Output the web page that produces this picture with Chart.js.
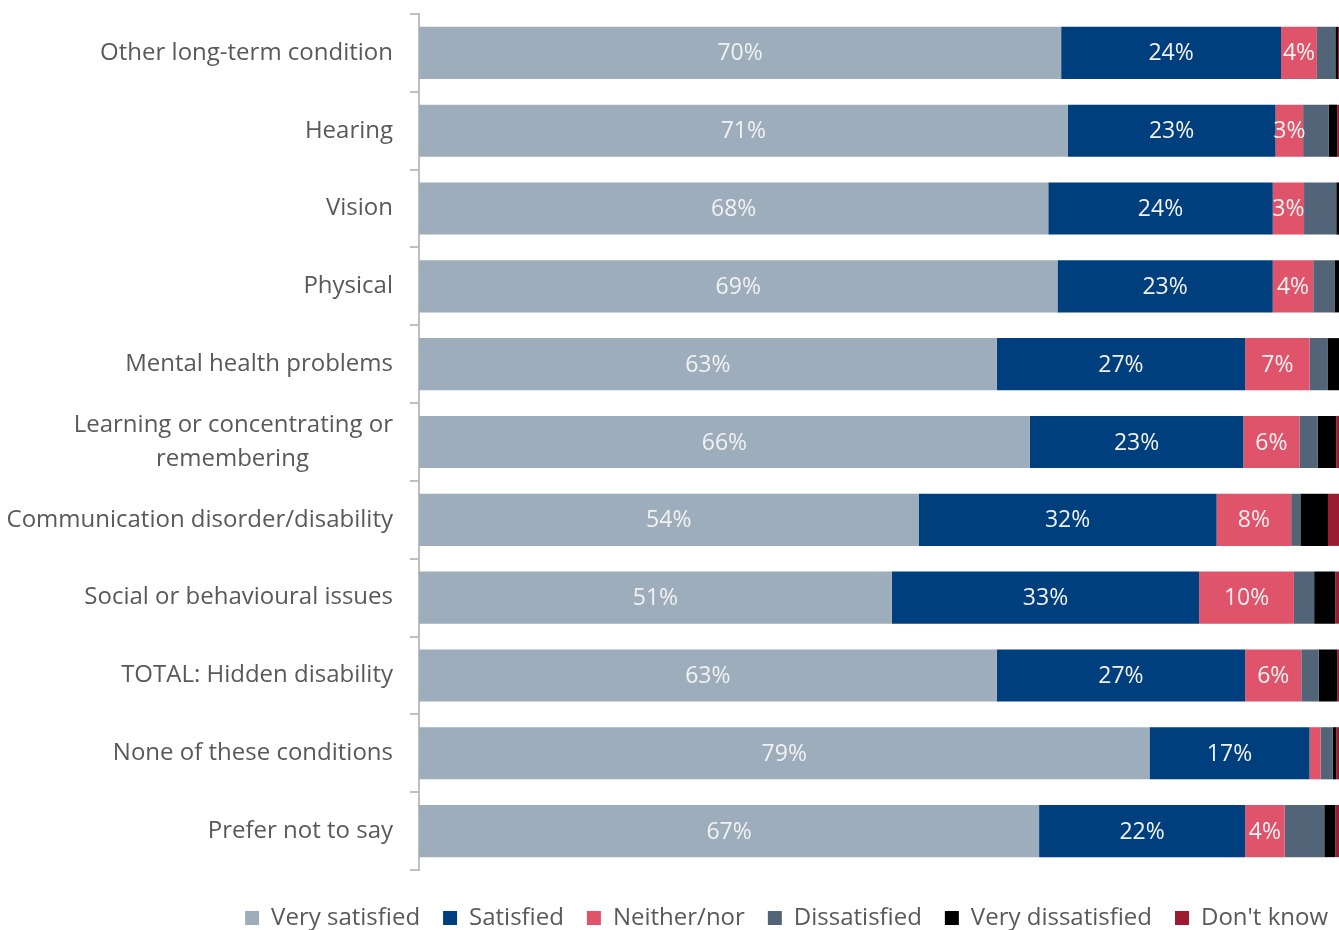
<!DOCTYPE html>
<html>
<head>
<meta charset="utf-8">
<script src="https://cdn.jsdelivr.net/npm/chart.js@4/dist/chart.umd.min.js"></script>
<style>
html,body{margin:0;padding:0;background:#fff;}
#wrap{width:1339px;height:930px;position:relative;}
</style>
</head>
<body>
<div id="wrap"><canvas id="c" width="1339" height="930"></canvas></div>
<script>
const categories = [
  "Other long-term condition",
  "Hearing",
  "Vision",
  "Physical",
  "Mental health problems",
  ["Learning or concentrating or", "remembering"],
  "Communication disorder/disability",
  "Social or behavioural issues",
  "TOTAL: Hidden disability",
  "None of these conditions",
  "Prefer not to say"
];
const seriesNames = ["Very satisfied", "Satisfied", "Neither/nor", "Dissatisfied", "Very dissatisfied", "Don't know"];
const verySatisfied    = [69.8, 70.5, 68.4, 69.4, 62.8, 66.4, 54.3, 51.4, 62.8, 79.4, 67.4];
const satisfied        = [23.9, 22.6, 24.4, 23.4, 27.0, 23.2, 32.4, 33.4, 27.0, 17.4, 22.4];
const neitherNor       = [3.9, 3.0, 3.4, 4.4, 7.0, 6.1, 8.1, 10.3, 6.1, 1.2, 4.3];
const dissatisfied     = [2.0, 2.8, 3.5, 2.3, 2.0, 2.0, 1.0, 2.2, 1.9, 1.3, 4.3];
const veryDissatisfied = [0.3, 0.9, 0.3, 0.5, 1.2, 2.0, 3.0, 2.3, 2.0, 0.4, 1.2];
const dontKnow         = [0.1, 0.2, 0.0, 0.0, 0.0, 0.3, 1.2, 0.4, 0.2, 0.3, 0.4];

const colors = ["#9DADBC", "#003F7D", "#E0546B", "#526578", "#000000", "#9B1B30"];
const allSeries = [verySatisfied, satisfied, neitherNor, dissatisfied, veryDissatisfied, dontKnow];
const FONT = "'Open Sans', 'Noto Sans', sans-serif";
const TICK_FONT_SIZE = 24;

// centre the lines of a wrapped label, while the block stays right-aligned
const measureCtx = document.createElement('canvas').getContext('2d');
function centreLines(label) {
  if (!Array.isArray(label)) return label;
  measureCtx.font = TICK_FONT_SIZE + "px " + FONT;
  const widths = label.map(l => measureCtx.measureText(l).width);
  const maxW = Math.max(...widths);
  const sp = measureCtx.measureText("\u200A").width || 1;
  return label.map((l, i) => {
    const n = Math.round(((maxW - widths[i]) / 2) / sp);
    return l + "\u200A".repeat(n);
  });
}

const barLabels = {
  id: 'barLabels',
  afterDatasetsDraw(chart) {
    const ctx = chart.ctx;
    ctx.save();
    ctx.font = "23px " + FONT;
    ctx.fillStyle = "#F2F2F2";
    ctx.textAlign = "center";
    ctx.textBaseline = "middle";
    chart.data.datasets.forEach((ds, di) => {
      if (di > 2) return;
      const meta = chart.getDatasetMeta(di);
      meta.data.forEach((bar, i) => {
        const v = ds.data[i];
        if (v < 2.5) return;
        const cx = (bar.x + bar.base) / 2;
        ctx.fillText(Math.round(v) + "%", cx, bar.y + 1);
      });
    });
    ctx.restore();
  }
};

const legendShift = {
  id: 'legendShift',
  afterLayout(chart) {
    const lg = chart.legend;
    if (lg) { lg.left += 12; lg.right += 12; }
  }
};

new Chart(document.getElementById('c'), {
  type: 'bar',
  data: {
    labels: categories,
    datasets: allSeries.map((d, i) => ({
      label: seriesNames[i],
      data: d,
      backgroundColor: colors[i],
      borderWidth: 0,
      categoryPercentage: 1.0,
      barPercentage: 0.67
    }))
  },
  options: {
    indexAxis: 'y',
    responsive: false,
    animation: false,
    layout: { padding: { top: 14, right: 0, bottom: -10, left: 0 } },
    scales: {
      x: {
        stacked: true, display: true, min: 0, max: 100,
        ticks: { display: false },
        grid: { display: false },
        border: { display: false },
        afterFit: s => { s.height = 13; s.paddingLeft = 0; s.paddingRight = 0; }
      },
      y: {
        stacked: true,
        afterFit: s => { s.width = 419; s.paddingTop = 0; s.paddingBottom = 0; },
        grid: { drawOnChartArea: false, drawTicks: true, tickLength: 9, color: "#BFBFBF", lineWidth: 2, offset: true },
        border: { display: true, color: "#BFBFBF", width: 2 },
        ticks: {
          color: "#595959",
          font: { family: FONT, size: TICK_FONT_SIZE, lineHeight: 1.42 },
          padding: 17, autoSkip: false,
          callback: function (v, i) { return centreLines(categories[i]); }
        }
      }
    },
    plugins: {
      legend: {
        position: 'bottom',
        align: 'end',
        labels: {
          color: "#595959",
          font: { family: FONT, size: 24 },
          boxWidth: 14, boxHeight: 14,
          padding: 23
        }
      },
      tooltip: { enabled: false }
    }
  },
  plugins: [barLabels, legendShift]
});
</script>
</body>
</html>
